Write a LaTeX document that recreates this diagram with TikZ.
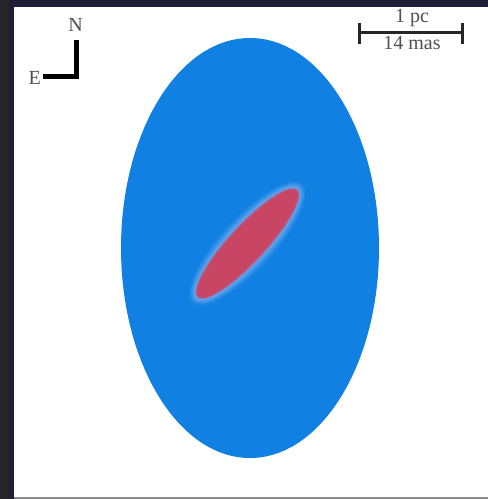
\documentclass[tikz,border=0pt]{standalone}
\usepackage{fontspec}
\setmainfont{Liberation Serif}
\definecolor{bgdark}{RGB}{30,30,54}
\definecolor{ellblue}{RGB}{16,128,226}
\definecolor{halo}{RGB}{150,190,245}
\definecolor{core}{RGB}{200,70,100}
\definecolor{txt}{RGB}{80,80,80}
\begin{document}
\begin{tikzpicture}[x=1pt,y=-1pt,
  lbl/.style={inner sep=0pt,text=txt,font=\fontsize{20}{20}\selectfont},
  bar/.style={line width=3pt,black!85},
  compass/.style={line width=5pt,black}]
\useasboundingbox (0,0) rectangle (488,499);
\fill[bgdark] (0,0) rectangle (488,499);
\fill[black!85] (0,0) rectangle (9,499);
\fill[white] (14,7) rectangle (488,497);
\fill[black!45] (14,497) rectangle (488,499);
% blue envelope
\fill[ellblue] (250,248) ellipse [x radius=129, y radius=210];
% red core with soft edge
\begin{scope}[shift={(247.5,243.5)},rotate=47.2]
  \foreach \d/\o in {9/0.12,7/0.18,5/0.25,3/0.3}{
    \fill[halo,opacity=\o] (0,0) ellipse [x radius=72+\d, y radius=17+\d];}
  \foreach \d/\o in {2/0.35,1/0.6,0/1}{
    \fill[core,opacity=\o] (0,0) ellipse [x radius=72+\d, y radius=17+\d];}
\end{scope}
% compass
\coordinate (ntop) at (76,40);
\coordinate (corner) at (76,76.5);
\coordinate (eend) at (43,76.5);
\draw[compass] (ntop) -- (corner) -- (eend);
\node[lbl,anchor=south] (n) at (75.5,32) {N};
\node[lbl,anchor=east] (e) at (41,78) {E};
% scale bar
\coordinate (bl) at (359.5,32.5);
\coordinate (br) at (462,32.5);
\draw[bar] (bl) -- (br);
\draw[bar] ([yshift=-11]bl) -- ([yshift=10]bl);
\draw[bar] ([yshift=-11]br) -- ([yshift=10]br);
\node[lbl,anchor=south] (pc) at (412,27) {1 pc};
\node[lbl,anchor=north] (mas) at (412,36) {14 mas};
\end{tikzpicture}
\end{document}
